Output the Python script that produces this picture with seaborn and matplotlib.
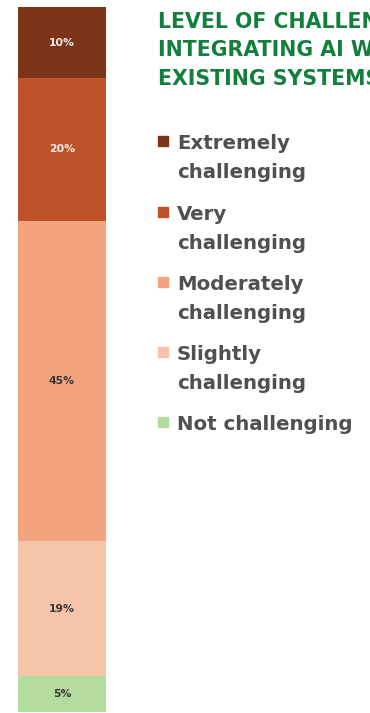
import matplotlib
matplotlib.use("Agg")
import matplotlib.pyplot as plt
import seaborn as sns
import pandas as pd
import numpy as np

# Survey responses, listed bottom of the bar to top
categories = ["Not challenging", "Slightly\nchallenging", "Moderately\nchallenging",
              "Very\nchallenging", "Extremely\nchallenging"]
values = [5, 19, 45, 20, 10]
colors = ["#b4dc9f", "#f6c5a9", "#f1a47d", "#c0522a", "#7b3417"]
label_colors = ["#3a3a3a", "#3a3a3a", "#3a3a3a", "#f7ece6", "#f7ece6"]
title_lines = ["LEVEL OF CHALLENGE IN", "INTEGRATING AI WITH", "EXISTING SYSTEMS"]

sns.set_theme(style="white")
plt.rcParams["font.family"] = ["DejaVu Sans"]

W, H = 370, 713
fig = plt.figure(figsize=(W / 100, H / 100), dpi=100)
ax = fig.add_axes([18 / W, 1 / H, 88 / W, 705 / H])

cum = np.cumsum(values)
df = pd.DataFrame({"group": ["all"] * len(values), "top": cum, "cat": categories})

# Stacked bar: draw cumulative totals from the tallest down so each segment shows
for i in range(len(values) - 1, -1, -1):
    sns.barplot(data=df.iloc[[i]], x="group", y="top", color=colors[i],
                width=1.0, saturation=1.0, ax=ax, linewidth=0, errorbar=None)

bottoms = cum - np.array(values)
for v, b, c in zip(values, bottoms, label_colors):
    ax.text(0, b + v / 2, f"{v}%", ha="center", va="center",
            fontsize=7.8, fontweight="bold", color=c)

ax.set_xlim(-0.5, 0.5)
ax.set_ylim(0, cum[-1])
ax.axis("off")

# Title, running past the right edge of the figure
for k, line in enumerate(title_lines):
    fig.text(158 / W, 1 - (28 + 28.5 * k) / H, line, ha="left", va="baseline",
             fontsize=14.8, fontweight="heavy", color="#12803c")

# Legend entries, top to bottom
legend_base = [149, 220, 290, 360, 430]
for (cat, col), y in zip(list(zip(categories, colors))[::-1], legend_base):
    fig.patches.append(plt.Rectangle((158 / W, 1 - (y - 3) / H), 10 / W, 10 / H,
                                     transform=fig.transFigure, color=col))
    for j, part in enumerate(cat.split("\n")):
        fig.text(177 / W, 1 - (y + 29 * j) / H, part, ha="left", va="baseline",
                 fontsize=14.2, fontweight="bold", color="#505050")

fig.savefig("out.png", dpi=100)
